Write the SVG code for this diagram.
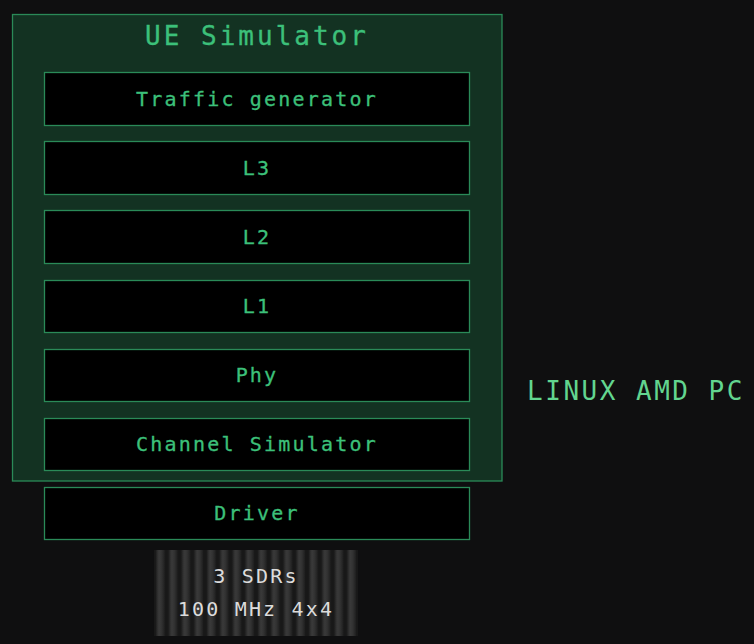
<svg xmlns="http://www.w3.org/2000/svg" width="754" height="644" viewBox="0 0 754 644">
<defs>
<style>
.box{fill:#000;stroke:#2a8a58;stroke-width:1.3}
.lbl{font-family:"DejaVu Sans Mono","Liberation Mono",monospace;font-size:20px;letter-spacing:2.2px;fill:#3cc07a;text-anchor:middle;dominant-baseline:central;stroke:#3cc07a;stroke-width:0.3}
.sdr{font-family:"DejaVu Sans Mono","Liberation Mono",monospace;font-size:20px;letter-spacing:2.2px;fill:#dcdcdc;text-anchor:middle;dominant-baseline:central}
</style>
<linearGradient id="stripe" x1="0" x2="1" y1="0" y2="0">
<stop offset="0" stop-color="#1c1c1c"/>
<stop offset="0.35" stop-color="#3a3a3a"/>
<stop offset="0.65" stop-color="#323232"/>
<stop offset="1" stop-color="#1d1d1d"/>
</linearGradient>
<pattern id="ribs" x="154" y="0" width="12.75" height="644" patternUnits="userSpaceOnUse">
<rect x="0" y="0" width="12.75" height="644" fill="#181818"/>
<rect x="1.5" y="0" width="9.5" height="644" fill="url(#stripe)"/>
</pattern>
</defs>
<rect x="0" y="0" width="754" height="644" fill="#0f0f10"/>
<g id="ue-simulator">
<rect x="12.5" y="14.5" width="489.5" height="466.5" fill="#133222" stroke="#2a8a58" stroke-width="1.3"/>
<text class="lbl" x="257" y="36" style="font-size:26px;letter-spacing:3px">UE Simulator</text>
</g>
<g id="traffic-generator"><rect class="box" x="44.5" y="72.5" width="425" height="53"/><text class="lbl" x="257" y="99">Traffic generator</text></g>
<g id="l3"><rect class="box" x="44.5" y="141.5" width="425" height="53"/><text class="lbl" x="257" y="168">L3</text></g>
<g id="l2"><rect class="box" x="44.5" y="210.5" width="425" height="53"/><text class="lbl" x="257" y="237">L2</text></g>
<g id="l1"><rect class="box" x="44.5" y="280.5" width="425" height="52"/><text class="lbl" x="257" y="306">L1</text></g>
<g id="phy"><rect class="box" x="44.5" y="349.5" width="425" height="52"/><text class="lbl" x="257" y="375">Phy</text></g>
<g id="channel-simulator"><rect class="box" x="44.5" y="418.5" width="425" height="52"/><text class="lbl" x="257" y="444">Channel Simulator</text></g>
<g id="driver"><rect class="box" x="44.5" y="487.5" width="425" height="52"/><text class="lbl" x="257" y="513">Driver</text></g>
<g id="sdrs">
<rect x="154" y="550" width="204" height="86" fill="url(#ribs)"/>
<text class="sdr" x="256" y="576">3 SDRs</text>
<text class="sdr" x="256" y="609">100 MHz 4x4</text>
</g>
<g id="linux-amd-pc">
<text x="636" y="391" style="font-family:'DejaVu Sans Mono','Liberation Mono',monospace;font-size:26px;letter-spacing:2.5px;fill:#62d58f;text-anchor:middle;dominant-baseline:central">LINUX AMD PC</text>
</g>
<g id="connectors"></g>
</svg>
